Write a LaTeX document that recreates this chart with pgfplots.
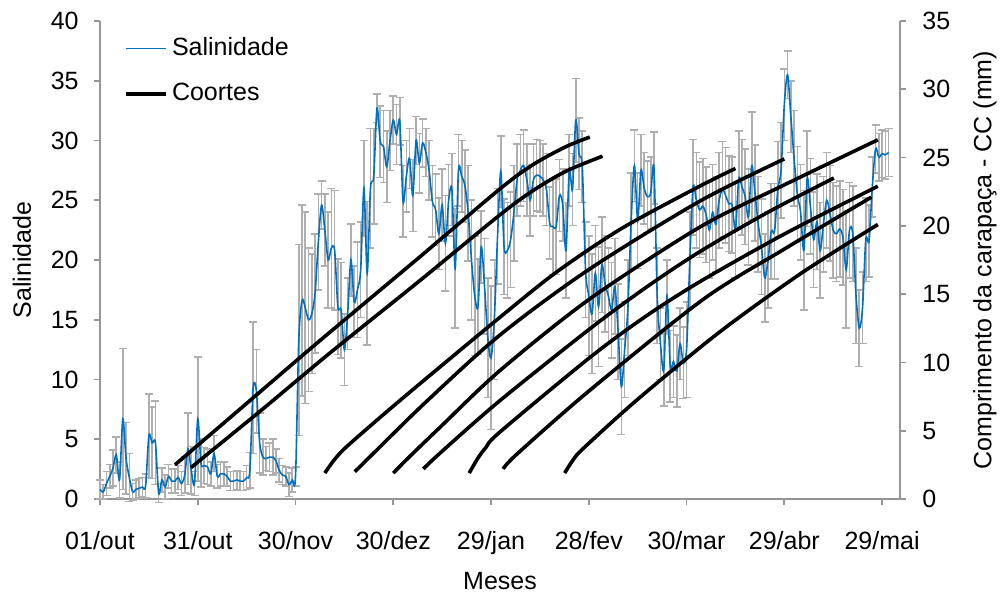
\documentclass[border=0pt]{standalone}
\usepackage{pgfplots}
\pgfplotsset{compat=1.18}
\usepackage{pgfplotstable}
\usepackage{fontspec}
\setmainfont{Liberation Sans}
\definecolor{salblue}{RGB}{0,112,192}
\definecolor{axgray}{RGB}{150,150,150}
\definecolor{errgray}{RGB}{175,175,175}

\pgfplotstableread{
d s e
0 0.8 0.8
1 0.6 0.6
2 1.3 1.0
3 1.9 1.0
4 2.6 1.5
5 3.7 1.5
6 1.6 1.5
7 6.7 5.9
8 3.4 3.0
9 1.8 2.0
10 0.6 0.7
11 0.8 0.8
12 0.9 0.8
13 1.0 0.8
14 1.1 1.0
15 5.3 3.5
16 4.7 3.0
17 4.7 3.5
18 0.5 0.8
19 1.6 1.0
20 1.0 1.0
21 1.9 1.0
22 1.5 1.0
23 1.5 1.0
24 1.8 1.0
25 1.3 1.0
26 2.0 1.5
27 4.2 3.0
28 2.4 2.0
29 1.3 1.0
30 6.7 5.2
31 3.0 2.0
32 2.8 1.5
33 2.7 1.5
34 2.1 1.0
35 3.8 1.5
36 1.9 1.0
37 2.1 1.0
38 2.1 1.0
39 1.9 0.8
40 1.5 0.8
41 1.5 0.8
42 1.6 0.8
43 1.5 0.8
44 1.5 0.8
45 1.8 1.0
46 2.4 1.5
47 9.3 5.5
48 9.0 3.5
49 4.7 2.5
50 3.5 1.5
51 3.4 1.0
52 3.5 1.2
53 3.5 1.5
54 3.2 1.0
55 2.4 1.0
56 2.0 0.8
57 1.9 0.8
58 1.2 1.0
59 1.6 1.0
60 1.9 0.8
61 13.3 8
62 16.6 8
63 16.0 8
64 15.0 6
65 15.5 5
66 17.2 5
67 21.5 4
68 24.6 2
69 22.5 3
70 20.0 4
71 21.0 5
72 20.8 5
73 16.1 4
74 15.8 4
75 12.5 3
76 15.5 3
77 20.0 3
78 16.5 3
79 17.5 4
80 19.2 4
81 26.0 4
82 18.9 6
83 26.0 5
84 27.0 4
85 32.7 1.2
86 29.9 3
87 29.5 3
88 27.8 3
89 30.0 2.5
90 31.7 2
91 30.5 2.5
92 31.6 2
93 24.9 3
94 27.0 3
95 28.5 2.5
96 25.4 3
97 30.0 2
98 28.1 2.5
99 29.8 2
100 29.0 2
101 27.5 2.5
102 24.9 3
103 24.2 3
104 22.2 3
105 24.6 3
106 21.4 4
107 25.0 3
108 25.9 3
109 19.3 5
110 27.5 3
111 27.0 3
112 26.2 3
113 23.9 4
114 20.0 5
115 17.0 5
116 16.1 4
117 21.1 3
118 17.8 4
119 13.5 5
120 11.8 6
121 15.0 5
122 22.0 4
123 27.4 3
124 21.1 4
125 20.8 4
126 21.7 4
127 23.9 4
128 26.7 3
129 27.5 3
130 27.9 3
131 26.7 3
132 25.0 3
133 26.7 3
134 27.1 3
135 27.0 3
136 26.7 3
137 25.9 3
138 23.1 3
139 22.8 4
140 22.8 4
141 25.4 3
142 24.6 3
143 20.8 4
144 27.5 3
145 25.9 3
146 31.7 3.5
147 28.9 3
148 27.8 3
149 19.2 4
150 17.0 5
151 15.5 5
152 18.9 4
153 16.1 5
154 19.6 4
155 18.0 4
156 17.0 4
157 15.8 4
158 17.8 4
159 14.0 4
160 9.4 4
161 12.5 4
162 16.0 4
163 23.3 4
164 27.9 3
165 23.3 4
166 27.5 3
167 26.0 3
168 25.3 3
169 25.6 3
170 27.7 3
171 17.0 4
172 13.0 3
173 10.8 3
174 17.0 3
175 11.1 3
176 11.5 3
177 10.7 3
178 13.0 3
179 11.4 3
180 12.5 4
181 20.0 4
182 26.1 4
183 25.0 4
184 24.2 4
185 24.5 4
186 23.8 4
187 22.5 4
188 24.0 4
189 23.0 4
190 25.0 4
191 25.9 4
192 25.4 4
193 24.7 4
194 24.6 4
195 22.5 4
196 26.8 4
197 26.1 4
198 25.3 4
199 23.6 4
200 27.9 4.5
201 25.6 4
202 23.0 4
203 21.1 4
204 18.5 3.7
205 20.0 4
206 22.4 4
207 22.4 4
208 25.9 4
209 27.5 4
210 33.0 3
211 35.5 2
212 32.0 3
213 28.5 4
214 25.5 4
215 24.0 4
216 20.8 5
217 26.8 4
218 24.5 4
219 21.7 4
220 23.2 4
221 20.8 4
222 23.0 4
223 25.0 4
224 23.9 4
225 22.5 4
226 22.2 4
227 22.6 4
228 21.9 4
229 19.2 4.9
230 22.5 4
231 22.2 4
232 17.0 4
233 14.3 3.2
234 16.0 3
235 21.7 3.5
236 21.6 3
237 26.1 2.5
238 29.3 2
239 28.6 2
240 28.9 2
241 28.8 2
242 29.0 2
}\saldata

\pgfplotsset{
  base/.style={
    scale only axis, width=400pt, height=239pt,
    xmin=0, xmax=245.5,
    tick align=outside, major tick length=3pt,
    axis line style={axgray, line width=0.9pt, -},
    every tick/.style={axgray, line width=0.9pt},
    /pgf/number format/assume math mode=true,
    clip=false,
  },
  cohort/.style={black, line width=1.8pt, smooth, tension=0.5, no markers},
}

\begin{document}
\fontsize{12.5}{15}\selectfont
\begin{tikzpicture}
\begin{axis}[base,
  axis x line*=bottom, axis y line*=left,
  ymin=0, ymax=40, ytick={0,5,...,40},
  xtick={0,30,...,240},
  xticklabels={01/out,31/out,30/nov,30/dez,29/jan,28/fev,30/mar,29/abr,29/mai},
  xticklabel style={anchor=base, inner sep=0pt, yshift=-22pt},
  yticklabel style={anchor=east, inner sep=0pt, xshift=-7.5pt},
  xlabel={Meses},
  xlabel style={at={(axis description cs:0.5,0)}, anchor=center, yshift=-41pt},
  ylabel={Salinidade},
  ylabel style={at={(axis description cs:-0.0975,0.5)}, anchor=center},
  legend style={draw=none, fill=none, at={(axis description cs:0,1)}, anchor=north west,
    xshift=12pt, yshift=-6pt, row sep=8pt, inner sep=0pt,
    nodes={inner sep=2pt, anchor=west}},
  legend cell align=left,
  legend image code/.code={\draw[#1] (0pt,0pt) -- (20pt,0pt);},
]
\addplot[forget plot, draw=none, no markers,
  error bars/.cd, y dir=both, y explicit,
  error bar style={draw=errgray, line width=0.8pt},
  error mark options={rotate=90, mark size=2pt, draw=errgray, line width=0.8pt}]
  table[x=d, y=s, y error=e] {\saldata};
\addplot[salblue, line width=0.8pt, smooth, no markers] table[x=d, y=s] {\saldata};
\addlegendentry{Salinidade}
\addlegendimage{black, line width=1.8pt}
\addlegendentry{Coortes}
\end{axis}

\begin{axis}[base,
  axis x line=none, axis y line*=right,
  ymin=0, ymax=35, ytick={0,5,...,35},
  yticklabel style={anchor=west, inner sep=0pt, xshift=8pt},
  ylabel={Comprimento da carapaça - CC (mm)},
  ylabel style={at={(axis description cs:1.10625,0.5)}, anchor=center},
]
\addplot[cohort] coordinates {(23,2.5) (45,7.0) (67.5,11.6) (98,17.7) (122.7,22.7) (133,24.5) (143,25.8) (150.3,26.5)};
\addplot[cohort] coordinates {(27.9,2.3) (50,6.6) (70.6,10.7) (98.2,16.0) (122.7,20.8) (133,22.6) (143,24.0) (154.2,25.1)};
\addplot[cohort] coordinates {(69,1.9) (72,2.9) (76,3.9) (90,6.8) (106,10.0) (122.7,13.3) (140,16.6) (160,19.8) (184,22.9) (195,24.2)};
\addplot[cohort] coordinates {(78.2,2.0) (85,3.6) (100,7.1) (122.7,12.0) (150,16.8) (184,21.8) (210,24.9)};
\addplot[cohort] coordinates {(90,1.9) (95,3.1) (105,5.4) (122.7,9.4) (150,14.6) (184,19.9) (210,23.0) (238.7,26.3)};
\addplot[cohort] coordinates {(99.2,2.2) (105,3.5) (122.7,7.2) (150,12.4) (167,15.4) (184,18.1) (205,21.0) (225.2,23.5)};
\addplot[cohort] coordinates {(113.3,1.9) (116,3.0) (118.5,3.8) (122.7,4.9) (150,10.3) (167,13.3) (184,15.9) (210,19.4) (238.7,22.9)};
\addplot[cohort] coordinates {(123.7,2.2) (128,3.3) (150,7.9) (185,14.6) (210,18.3) (236.7,22.1)};
\addplot[cohort] coordinates {(142.6,1.9) (145,2.8) (148.3,3.7) (165,7.3) (190,12.2) (215,16.5) (238.7,20.1)};
\end{axis}
\pgfresetboundingbox
\path[use as bounding box] (-50pt,-47.5pt) rectangle (450pt,249.5pt);
\end{tikzpicture}
\end{document}
